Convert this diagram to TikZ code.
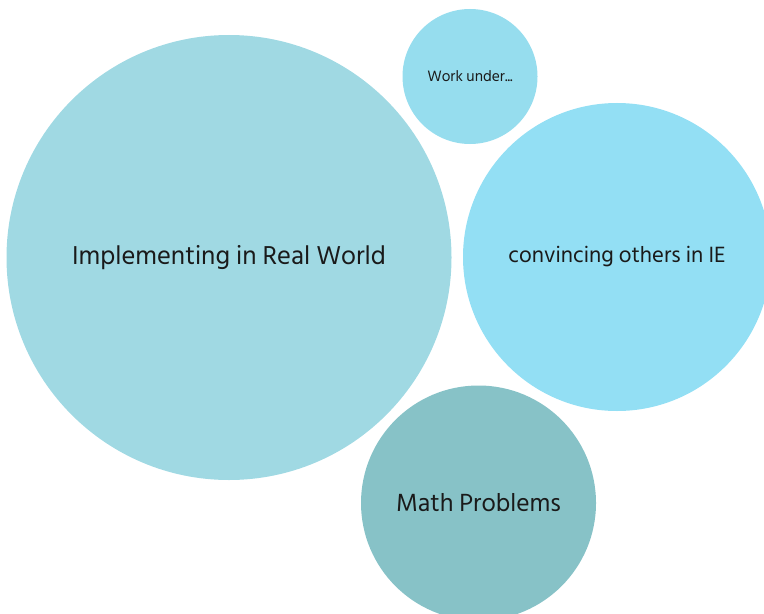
\documentclass[tikz,border=0pt]{standalone}
\usepackage{fontspec}
\setmainfont{Hind Siliguri}
\usepackage{tkz-euclide}

\definecolor{bubbleA}{HTML}{A0D9E3}
\definecolor{bubbleB}{HTML}{96DDEE}
\definecolor{bubbleC}{HTML}{93DFF4}
\definecolor{bubbleD}{HTML}{87C2C7}
\definecolor{ink}{HTML}{1A1A1A}

\begin{document}
\begin{tikzpicture}
	\useasboundingbox (0,0) rectangle (15.28,12.26);
	\clip (0,0) rectangle (15.28,12.26);
	\tkzDefPoints{4.58/7.11/C1, 9.40/10.73/C2, 12.34/7.12/C3, 9.57/2.20/C4}
	\tkzDefShiftPoint[C1](0:4.45){P1}
	\tkzDefShiftPoint[C2](0:1.35){P2}
	\tkzDefShiftPoint[C3](0:3.08){P3}
	\tkzDefShiftPoint[C4](0:2.35){P4}
	
	\tkzDrawCircle[fill=bubbleA, draw=none](C1,P1)
	\tkzDrawCircle[fill=bubbleB, draw=none](C2,P2)
	\tkzDrawCircle[fill=bubbleC, draw=none](C3,P3)
	\tkzDrawCircle[fill=bubbleD, draw=none](C4,P4)
	
	\node[text=ink, font=\fontsize{15.1}{17}\selectfont] (impl) at (C1) {Implementing in Real World};
	\node[text=ink, font=\fontsize{8.8}{10}\selectfont] (work) at (C2) {Work under...};
	\node[text=ink, font=\fontsize{12.9}{15}\selectfont] (conv) at (C3) {convincing others in IE};
	\node[text=ink, font=\fontsize{14.5}{16}\selectfont] (math) at (C4) {Math Problems};
\end{tikzpicture}
\end{document}
